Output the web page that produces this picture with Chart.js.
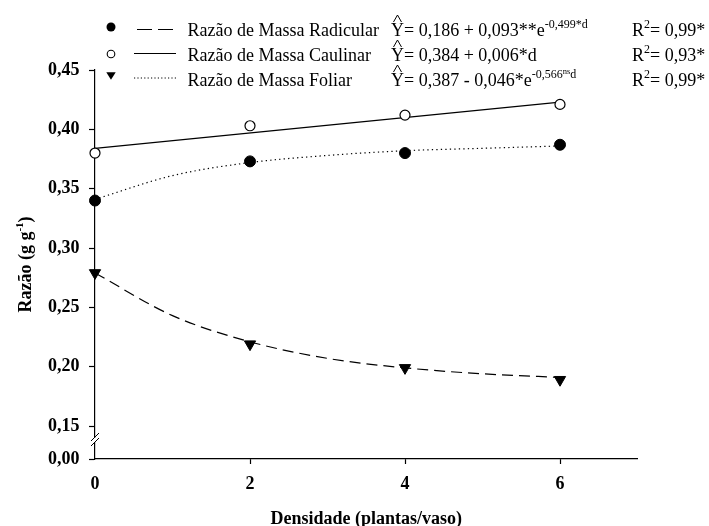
<!DOCTYPE html>
<html><head><meta charset="utf-8">
<script src="https://cdn.jsdelivr.net/npm/chart.js@4.4.1/dist/chart.umd.min.js"></script>
<style>html,body{margin:0;padding:0;background:#fff;}#c{display:block;}</style>
</head><body>
<canvas id="c" width="709" height="526"></canvas>
<script>
// ---- data ----
const xCategories = [0, 2, 4, 6];
const xTickLabels = ['0', '2', '4', '6'];
const yTickValues = [0.15, 0.20, 0.25, 0.30, 0.35, 0.40, 0.45];
const yBreakLabel = '0,00';
const filledCircleValues = [0.340, 0.373, 0.380, 0.387];
const openCircleValues = [0.380, 0.403, 0.412, 0.421];
const triangleValues = [0.279, 0.219, 0.199, 0.189];
const curveX = [0, 1, 2, 3, 4, 5, 6];
const dottedCurveValues = [0.341, 0.361, 0.372, 0.378, 0.382, 0.384, 0.386];
const dashedCurveValues = [0.279, 0.243, 0.221, 0.207, 0.199, 0.194, 0.191];
const solidLineX = [0, 6];
const solidLineValues = [0.384, 0.423];
const legendNames = ['Razão de Massa Radicular', 'Razão de Massa Caulinar', 'Razão de Massa Foliar'];
const legendEquations = [
  [['= 0,186 + 0,093**e', 0], ['-0,499*d', 1]],
  [['= 0,384 + 0,006*d', 0]],
  [['= 0,387 - 0,046*e', 0], ['-0,566', 1], ['ns', 2], ['d', 1]]
];
const legendR2 = ['= 0,99*', '= 0,93*', '= 0,99*'];
const xTitle = 'Densidade (plantas/vaso)';
const yTitleMain = 'Razão (g g';
const yTitleSup = '-1';

// ---- layout/style ----
const SERIF = "'Liberation Serif', 'Times New Roman', serif";
const Y_MIN = 0.1222, Y_MAX = 0.45;
const pts = (xs, ys) => xs.map((x, i) => ({x, y: ys[i]}));

const decor = {
  id: 'decor',
  afterDraw(chart) {
    const ctx = chart.ctx;
    const ca = chart.chartArea;
    const ys = chart.scales.y;
    ctx.save();
    // axis break
    const yb = 442;
    const x0 = ca.left;
    ctx.fillStyle = '#fff';
    ctx.fillRect(x0 - 2, yb - 4, 4, 4);
    ctx.strokeStyle = '#000'; ctx.lineWidth = 1;
    ctx.beginPath();
    ctx.moveTo(x0 - 4, yb - 1); ctx.lineTo(x0 + 4, yb - 9);
    ctx.moveTo(x0 - 4, yb + 4); ctx.lineTo(x0 + 4, yb - 4);
    ctx.stroke();

    // titles
    ctx.fillStyle = '#000';
    ctx.font = 'bold 18px ' + SERIF;
    ctx.textAlign = 'center'; ctx.textBaseline = 'alphabetic';
    ctx.fillText(xTitle, (ca.left + ca.right) / 2, 524);
    ctx.save();
    ctx.translate(31, (ca.top + ca.bottom) / 2);
    ctx.rotate(-Math.PI / 2);
    ctx.font = 'bold 18px ' + SERIF;
    const wMain = ctx.measureText(yTitleMain).width;
    ctx.font = 'bold 11px ' + SERIF;
    const wSup = ctx.measureText(yTitleSup).width;
    ctx.font = 'bold 18px ' + SERIF;
    const wEnd = ctx.measureText(')').width;
    let sx = -(wMain + wSup + wEnd) / 2;
    ctx.textAlign = 'left';
    ctx.fillText(yTitleMain, sx, 0); sx += wMain;
    ctx.font = 'bold 11px ' + SERIF;
    ctx.fillText(yTitleSup, sx, -8); sx += wSup;
    ctx.font = 'bold 18px ' + SERIF;
    ctx.fillText(')', sx, 0);
    ctx.restore();

    // legend
    const baselines = [36, 61, 86];
    const markerY = [27, 54, 76];
    const lineY = [29.5, 53.5, 78];
    const mX = 111, nameX = 187.5, eqX = 391, r2X = 632;
    const sizes = [18, 12, 8.5], raise = [0, 8, 12];
    baselines.forEach((base, i) => {
      // marker
      ctx.lineWidth = 1.1; ctx.strokeStyle = '#000'; ctx.fillStyle = '#000';
      ctx.setLineDash([]);
      const my = markerY[i];
      if (i === 0) { ctx.beginPath(); ctx.arc(mX, my, 4.5, 0, 2 * Math.PI); ctx.fill(); }
      else if (i === 1) { ctx.beginPath(); ctx.arc(mX, my, 3.8, 0, 2 * Math.PI); ctx.fillStyle = '#fff'; ctx.fill(); ctx.stroke(); ctx.fillStyle = '#000'; }
      else { ctx.beginPath(); ctx.moveTo(mX - 4.7, my - 3.7); ctx.lineTo(mX + 4.7, my - 3.7); ctx.lineTo(mX, my + 3.7); ctx.closePath(); ctx.fill(); }
      // line sample
      const ly = lineY[i];
      ctx.beginPath();
      if (i === 0) {
        ctx.lineWidth = 1.2;
        ctx.moveTo(137, ly); ctx.lineTo(152, ly);
        ctx.moveTo(158, ly); ctx.lineTo(173, ly);
      } else if (i === 1) {
        ctx.lineWidth = 1.2;
        ctx.moveTo(134, ly); ctx.lineTo(176, ly);
      } else {
        ctx.setLineDash([1.2, 2.2]); ctx.lineWidth = 1;
        ctx.moveTo(134, ly); ctx.lineTo(177, ly);
      }
      ctx.stroke();
      ctx.setLineDash([]);
      // name
      ctx.textAlign = 'left'; ctx.textBaseline = 'alphabetic';
      ctx.font = '18px ' + SERIF;
      ctx.fillText(legendNames[i], nameX, base);
      // equation: Y with hat
      let x = eqX;
      ctx.font = '18px ' + SERIF;
      const wY = ctx.measureText('Y').width;
      ctx.fillText('Y', x, base);
      ctx.lineWidth = 1;
      ctx.beginPath();
      ctx.moveTo(x + 2.5, base - 14); ctx.lineTo(x + wY / 2, base - 21); ctx.lineTo(x + wY - 2.5, base - 14);
      ctx.stroke();
      x += wY;
      legendEquations[i].forEach(([t, lvl]) => {
        ctx.font = sizes[lvl] + 'px ' + SERIF;
        ctx.fillText(t, x, base - raise[lvl]);
        x += ctx.measureText(t).width;
      });
      // R2
      x = r2X;
      ctx.font = '18px ' + SERIF;
      ctx.fillText('R', x, base); x += ctx.measureText('R').width;
      ctx.font = '12px ' + SERIF;
      ctx.fillText('2', x, base - 8); x += ctx.measureText('2').width;
      ctx.font = '18px ' + SERIF;
      ctx.fillText(legendR2[i], x, base);
    });
    ctx.restore();
  }
};

new Chart(document.getElementById('c'), {
  type: 'scatter',
  data: {
    datasets: [
      { data: pts(xCategories, filledCircleValues), pointStyle: 'circle', pointRadius: 5.5, backgroundColor: '#000', borderColor: '#000', borderWidth: 1, clip: false },
      { data: pts(xCategories, openCircleValues), pointStyle: 'circle', pointRadius: 5, backgroundColor: '#fff', borderColor: '#000', borderWidth: 1.2, clip: false },
      { data: pts(xCategories, triangleValues), pointStyle: 'triangle', rotation: 180, pointRadius: 6.5, backgroundColor: '#000', borderColor: '#000', borderWidth: 1, clip: false },
      { data: pts(curveX, dottedCurveValues), showLine: true, pointRadius: 0, borderColor: '#000', borderWidth: 1.2, borderDash: [1.3, 3.2], cubicInterpolationMode: 'monotone', clip: false },
      { data: pts(curveX, dashedCurveValues), showLine: true, pointRadius: 0, borderColor: '#000', borderWidth: 1.2, borderDash: [11, 6], cubicInterpolationMode: 'monotone', clip: false },
      { data: pts(solidLineX, solidLineValues), showLine: true, pointRadius: 0, borderColor: '#000', borderWidth: 1.3, clip: false }
    ]
  },
  options: {
    responsive: false, animation: false, devicePixelRatio: 1,
    layout: { padding: { top: 70, right: 71.5, left: 0, bottom: 0 } },
    plugins: { legend: { display: false }, tooltip: { enabled: false } },
    scales: {
      x: {
        type: 'linear', min: 0, max: 7,
        afterBuildTicks: s => { s.ticks = xCategories.map(v => ({ value: v })); },
        afterFit: s => { s.height = 67; },
        ticks: { color: '#000', font: { family: SERIF, size: 18, weight: 'bold' }, padding: 10,
          callback: (v, i) => xTickLabels[i] },
        grid: { drawOnChartArea: false, drawTicks: true, tickLength: 5, tickWidth: 1.2,
          tickColor: c => (c.tick && c.tick.value === 0) ? 'rgba(0,0,0,0)' : '#000' },
        border: { color: '#000', width: 1.2 }
      },
      y: {
        type: 'linear', min: Y_MIN, max: Y_MAX,
        afterBuildTicks: s => { s.ticks = [{ value: Y_MIN }].concat(yTickValues.map(v => ({ value: v }))); },
        afterFit: s => { s.width = 95; },
        ticks: { color: '#000', font: { family: SERIF, size: 18, weight: 'bold' }, padding: 9.5,
          callback: (v, i) => i === 0 ? yBreakLabel : v.toFixed(2).replace('.', ',') },
        grid: { drawOnChartArea: false, drawTicks: true, tickLength: 6, tickWidth: 1.2, tickColor: '#000' },
        border: { color: '#000', width: 1.2 }
      }
    }
  },
  plugins: [decor]
});
</script>
</body></html>
